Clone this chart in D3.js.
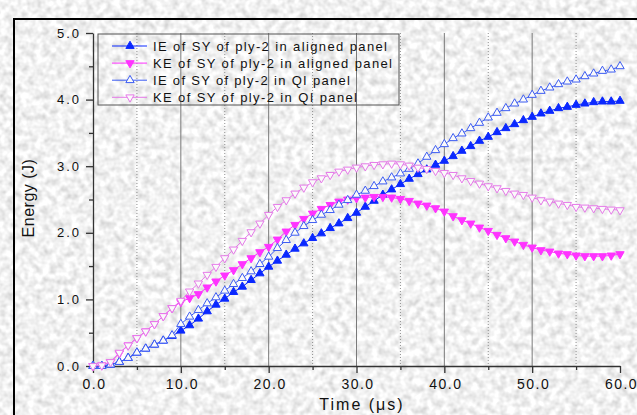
<!DOCTYPE html>
<meta charset="utf-8" />
<html lang="en">
  <head>
    <script src="https://d3js.org/d3.v7.min.js"></script>
    <style>
      body { margin: 0; }
      svg text { font-family: Arial, "Liberation Sans", sans-serif; fill: #111; }
      .grid-major line { stroke: #7a7a7a; stroke-width: 1px; }
      .grid-minor line { stroke: #909090; stroke-width: 1px; stroke-dasharray: 1,2; }
      .axis path, .axis line { stroke: #333; stroke-width: 1.3px; }
      .axis text { font-size: 13px; letter-spacing: 2px; fill: #111; }
    </style>
  </head>
  <body>
    <svg width="637" height="415"></svg>
    <script>
      // time in microseconds, one sample per us
      var time = d3.range(0, 61, 1);

      var ieAligned = [0, 0, 0.02, 0.06, 0.12, 0.20, 0.26, 0.32, 0.38, 0.45, 0.53,
        0.61, 0.71, 0.82, 0.92, 1.01, 1.11, 1.19, 1.29, 1.39, 1.49,
        1.58, 1.67, 1.76, 1.84, 1.92, 1.99, 2.07, 2.14, 2.22, 2.30,
        2.39, 2.48, 2.57, 2.65, 2.73, 2.81, 2.88, 2.95, 3.02, 3.08,
        3.15, 3.23, 3.30, 3.38, 3.44, 3.51, 3.57, 3.63, 3.69, 3.74,
        3.79, 3.83, 3.87, 3.89, 3.92, 3.94, 3.96, 3.97, 3.97, 3.98];

      var keAligned = [0, 0.01, 0.06, 0.19, 0.31, 0.42, 0.52, 0.63, 0.75, 0.87, 0.96,
        1.02, 1.08, 1.18, 1.27, 1.36, 1.44, 1.53, 1.62, 1.71, 1.79,
        1.90, 2.02, 2.12, 2.21, 2.29, 2.36, 2.42, 2.47, 2.50, 2.52,
        2.53, 2.54, 2.54, 2.53, 2.51, 2.48, 2.44, 2.41, 2.37, 2.32,
        2.25, 2.19, 2.14, 2.08, 2.03, 1.97, 1.92, 1.87, 1.82, 1.78,
        1.74, 1.72, 1.69, 1.68, 1.66, 1.65, 1.65, 1.65, 1.66, 1.68];

      var ieQI = [0, 0, 0.02, 0.06, 0.12, 0.20, 0.26, 0.32, 0.38, 0.46, 0.63,
        0.74, 0.84, 0.94, 1.03, 1.13, 1.23, 1.32, 1.42, 1.53, 1.64,
        1.77, 1.89, 2.00, 2.10, 2.19, 2.27, 2.34, 2.42, 2.49, 2.57,
        2.63, 2.70, 2.77, 2.83, 2.89, 2.96, 3.04, 3.14, 3.24, 3.33,
        3.42, 3.49, 3.57, 3.65, 3.73, 3.80, 3.87, 3.94, 4.00, 4.07,
        4.13, 4.18, 4.23, 4.27, 4.30, 4.35, 4.39, 4.43, 4.45, 4.50];

      var keQI = [0, 0.01, 0.06, 0.20, 0.31, 0.42, 0.52, 0.63, 0.75, 0.87, 0.98,
        1.12, 1.24, 1.37, 1.49, 1.62, 1.75, 1.88, 2.01, 2.14, 2.27,
        2.39, 2.49, 2.59, 2.68, 2.76, 2.82, 2.87, 2.92, 2.95, 2.98,
        3.00, 3.02, 3.03, 3.04, 3.03, 3.01, 2.98, 2.96, 2.93, 2.90,
        2.87, 2.82, 2.78, 2.74, 2.70, 2.67, 2.63, 2.59, 2.57, 2.53,
        2.49, 2.47, 2.44, 2.42, 2.39, 2.38, 2.37, 2.36, 2.35, 2.34];

      var seriesNames = ["IE of SY of ply-2 in aligned panel",
        "KE of SY of ply-2 in aligned panel",
        "IE of SY of ply-2 in QI panel",
        "KE of SY of ply-2 in QI panel"];

      var xTicks = [0, 10, 20, 30, 40, 50, 60];
      var xMinor = [5, 15, 25, 35, 45, 55];
      var yTicks = [0, 1, 2, 3, 4, 5];
      var yMinor = [0.5, 1.5, 2.5, 3.5, 4.5];

      var series = [
        { name: seriesNames[0], values: ieAligned, color: "#0a28ff", filled: true, down: false },
        { name: seriesNames[1], values: keAligned, color: "#ff33ff", filled: true, down: true },
        { name: seriesNames[2], values: ieQI, color: "#3c5cf2", filled: false, down: false },
        { name: seriesNames[3], values: keQI, color: "#e57ae8", filled: false, down: true }
      ];

      var svg = d3.select("svg");

      // paper-like noisy background
      var defs = svg.append("defs");
      var f = defs.append("filter").attr("id", "paper")
        .attr("x", 0).attr("y", 0).attr("width", "100%").attr("height", "100%");
      f.append("feTurbulence").attr("type", "fractalNoise")
        .attr("baseFrequency", 0.14).attr("numOctaves", 2).attr("seed", 7);
      f.append("feColorMatrix").attr("type", "matrix")
        .attr("values", "0.65 0 0 0 0.56  0.65 0 0 0 0.56  0.65 0 0 0 0.56  0 0 0 0 1");
      svg.append("rect").attr("width", 637).attr("height", 415)
        .attr("fill", "#e6e6e6").attr("filter", "url(#paper)");

      // outer frame
      svg.append("rect").attr("x", 14).attr("y", 19).attr("width", 700).attr("height", 500)
        .attr("fill", "none").attr("stroke", "#000").attr("stroke-width", 2);

      var x = d3.scaleLinear().domain([0, 60]).range([93, 620]);
      var y = d3.scaleLinear().domain([0, 5]).range([366, 33]);

      // vertical grid
      svg.append("g").attr("class", "grid-minor").selectAll("line")
        .data(xMinor).enter().append("line")
        .attr("x1", d => x(d)).attr("x2", d => x(d))
        .attr("y1", y(5)).attr("y2", y(0));
      svg.append("g").attr("class", "grid-major").selectAll("line")
        .data(xTicks.slice(1, -1)).enter().append("line")
        .attr("x1", d => x(d)).attr("x2", d => x(d))
        .attr("y1", y(5)).attr("y2", y(0));

      // axes
      var fmt = d3.format(".1f");
      svg.append("g").attr("class", "axis")
        .attr("transform", "translate(0," + y(0) + ")")
        .call(d3.axisBottom(x).tickValues(xMinor).tickSize(4).tickFormat(""))
        .select(".domain").remove();
      var xa = svg.append("g").attr("class", "axis")
        .attr("transform", "translate(0," + y(0) + ")")
        .call(d3.axisBottom(x).tickValues(xTicks).tickSize(7).tickSizeOuter(0).tickFormat(fmt));
      xa.selectAll("text").attr("dy", "0.95em").attr("dx", 1).style("font-size", "14px").style("letter-spacing", "1.5px");

      svg.append("g").attr("class", "axis")
        .attr("transform", "translate(" + x(0) + ",0)")
        .call(d3.axisLeft(y).tickValues(yMinor).tickSize(4).tickFormat(""))
        .select(".domain").remove();
      var ya = svg.append("g").attr("class", "axis")
        .attr("transform", "translate(" + x(0) + ",0)")
        .call(d3.axisLeft(y).tickValues(yTicks).tickSize(7).tickSizeOuter(0).tickFormat(fmt));
      ya.selectAll("text").attr("x", -12);

      // axis titles
      svg.append("text").attr("x", 362).attr("y", 410).attr("text-anchor", "middle")
        .style("font-size", "16px").style("letter-spacing", "2px").text("Time (\u03bcs)");
      svg.append("text").attr("transform", "translate(33.5,198) rotate(-90)")
        .attr("text-anchor", "middle").style("font-size", "16px").style("letter-spacing", "0.5px")
        .text("Energy (J)");

      // series
      var line = d3.line().x((d, i) => x(time[i])).y(d => y(d));
      var tri = d3.symbol().type(d3.symbolTriangle).size(30);

      series.forEach(function(s) {
        var g = svg.append("g");
        g.append("path").attr("d", line(s.values))
          .attr("fill", "none").attr("stroke", s.color).attr("stroke-width", 1);
        g.selectAll("path.m").data(s.values).enter().append("path").attr("class", "m")
          .attr("d", tri)
          .attr("transform", (d, i) => "translate(" + x(time[i]) + "," + y(d) + ")" + (s.down ? " rotate(180)" : ""))
          .attr("fill", s.filled ? s.color : "#fafafa")
          .attr("stroke", s.color).attr("stroke-width", 1);
      });

      // legend
      var legend = svg.append("g");
      legend.append("rect").attr("x", 98).attr("y", 34).attr("width", 301).attr("height", 71)
        .attr("fill", "none").attr("stroke", "#555").attr("stroke-width", 1);
      var textLens = [234, 239, 197, 204];
      series.forEach(function(s, i) {
        var ly = 46 + i * 17.1;
        legend.append("line").attr("x1", 112).attr("x2", 147).attr("y1", ly).attr("y2", ly)
          .attr("stroke", s.color).attr("stroke-width", 1);
        legend.append("path").attr("d", tri)
          .attr("transform", "translate(130," + ly + ")" + (s.down ? " rotate(180)" : ""))
          .attr("fill", s.filled ? s.color : "#fafafa").attr("stroke", s.color);
        legend.append("text").attr("x", 153).attr("y", ly + 4.5)
          .attr("textLength", textLens[i]).attr("lengthAdjust", "spacing")
          .style("font-size", "13px").text(s.name);
      });
    </script>
  </body>
</html>
